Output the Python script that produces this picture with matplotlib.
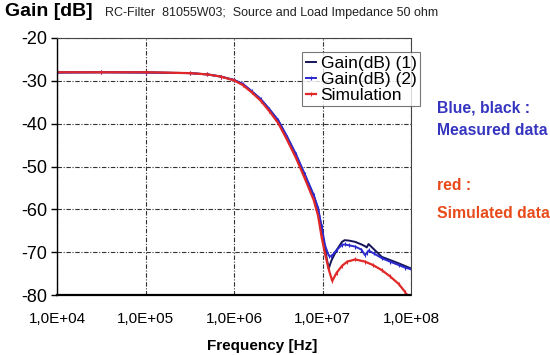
import numpy as np
from matplotlib import pyplot as plt

plt.rcParams['font.family'] = ['Liberation Sans', 'DejaVu Sans']
plt.rcParams['axes.unicode_minus'] = False

# Measured data (log10 of frequency in Hz) and gain in dB
log_freq_meas = [4.0, 4.5, 5.0, 5.5, 5.7, 5.85, 6.0, 6.1, 6.2, 6.3, 6.4, 6.5,
                 6.6, 6.7, 6.8, 6.9, 6.95, 6.99, 7.03, 7.07, 7.10, 7.16, 7.22,
                 7.25, 7.30, 7.37, 7.44, 7.48, 7.50, 7.52, 7.58, 7.67, 7.76,
                 7.86, 7.93, 8.0]
gain_1 = [-28.0, -28.0, -28.0, -28.2, -28.5, -29.0, -29.8, -30.8, -32.5, -34.3,
          -36.7, -39.3, -43.2, -47.3, -52.0, -56.8, -60.0, -64.5, -69.5, -73.8,
          -72.0, -69.5, -67.6, -67.2, -67.3, -67.6, -68.2, -68.6, -68.9, -68.1,
          -69.3, -71.1, -71.8, -72.6, -73.2, -73.8]
gain_2 = [-28.1, -28.0, -28.1, -28.2, -28.5, -29.0, -29.8, -30.7, -32.4, -34.2,
          -36.6, -39.2, -43.0, -47.1, -51.8, -56.6, -59.7, -64.0, -68.5, -70.8,
          -71.0, -69.5, -68.3, -68.2, -68.4, -68.7, -69.4, -70.7, -70.2, -69.6,
          -70.3, -71.4, -72.2, -73.0, -73.6, -74.0]

# Simulation
log_freq_sim = [4.0, 4.5, 5.0, 5.5, 5.7, 5.85, 6.0, 6.1, 6.2, 6.3, 6.4, 6.5,
                6.6, 6.7, 6.8, 6.9, 6.95, 6.99, 7.03, 7.07, 7.11, 7.16, 7.22,
                7.28, 7.37, 7.48, 7.57, 7.67, 7.76, 7.86, 7.93, 7.95]
gain_sim = [-28.0, -28.0, -28.0, -28.2, -28.5, -29.0, -29.9, -31.0, -32.7, -34.6,
            -37.1, -39.9, -43.8, -48.0, -52.8, -57.8, -61.5, -66.5, -70.5, -74.0,
            -76.7, -74.8, -73.2, -72.2, -71.7, -72.2, -73.0, -74.2, -75.6, -77.4,
            -79.2, -80.0]

x_ticks = [1e4, 1e5, 1e6, 1e7, 1e8]
x_labels = ['1,0E+04', '1,0E+05', '1,0E+06', '1,0E+07', '1,0E+08']
y_ticks = [-80, -70, -60, -50, -40, -30, -20]

fig = plt.figure(figsize=(5.5, 3.55), dpi=100)
ax = fig.add_axes([57 / 550, 1 - 295 / 355, 354 / 550, 257 / 355])

f_meas = 10 ** np.array(log_freq_meas)
f_sim = 10 ** np.array(log_freq_sim)

ax.plot(f_meas, gain_1, '-', color='#14145a', lw=1.4, label='Gain(dB) (1)')
ax.plot(f_meas, gain_2, '-', color='#2a2ad0', lw=1.4, marker='|', ms=2.5,
        mew=0.8, label='Gain(dB) (2)')
ax.plot(f_sim, gain_sim, '-', color='#e02828', lw=1.6, marker='|', ms=2.5,
        mew=0.8, label='Simulation')

ax.set_xscale('log')
ax.set_xlim(1e4, 1e8)
ax.set_ylim(-80, -20)
ax.set_xticks(x_ticks)
ax.set_xticklabels(x_labels)
ax.minorticks_off()
ax.set_yticks(y_ticks)
ax.tick_params(axis='x', length=0, pad=12, labelsize=11)
ax.tick_params(axis='y', length=4, width=1, pad=3, labelsize=13)

ax.grid(True, color='#333333', lw=0.8, linestyle=(0, (4, 1.5, 1, 1.5)))

for s in ['top', 'right']:
    ax.spines[s].set_color('#444444')
    ax.spines[s].set_linewidth(0.8)
ax.spines['left'].set_linewidth(1.0)
ax.spines['bottom'].set_linewidth(1.6)
ax.spines['bottom'].set_linestyle((0, (1, 1)))

ax.set_xlabel('Frequency [Hz]', fontsize=11, fontweight='bold')
ax.xaxis.set_label_coords(0.58, -0.17)

fig.text(5 / 550, 1 - 12 / 355, 'Gain [dB]', fontsize=14, fontweight='bold',
         va='center', ha='left')
fig.text(105 / 550, 1 - 13 / 355,
         'RC-Filter  81055W03;  Source and Load Impedance 50 ohm',
         fontsize=9, va='center', ha='left', color='#222222')

leg = ax.legend(loc='upper right', bbox_to_anchor=(420 / 550, 1 - 52 / 355),
                bbox_transform=fig.transFigure, fontsize=12.5, frameon=True,
                fancybox=False, handlelength=0.6, handletextpad=0.25,
                borderpad=0.2, labelspacing=0.05, borderaxespad=0)
leg.get_frame().set_edgecolor('#555555')
leg.get_frame().set_linewidth(0.8)

blue_txt = '#3535c0'
red_txt = '#e84a1a'
fig.text(437 / 550, 1 - 108 / 355, 'Blue, black :', color=blue_txt,
         fontsize=11.3, fontweight='bold', va='center')
fig.text(437 / 550, 1 - 131 / 355, 'Measured data', color=blue_txt,
         fontsize=11.3, fontweight='bold', va='center')
fig.text(437 / 550, 1 - 186 / 355, 'red :', color=red_txt,
         fontsize=11.3, fontweight='bold', va='center')
fig.text(437 / 550, 1 - 213 / 355, 'Simulated data', color=red_txt,
         fontsize=11.3, fontweight='bold', va='center')

plt.savefig('out.png', dpi=100)
